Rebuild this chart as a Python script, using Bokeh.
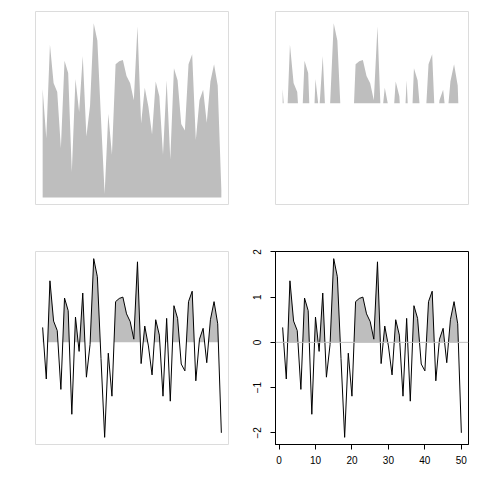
import numpy as np
from bokeh.plotting import figure
from bokeh.models import Range1d, Span, FixedTicker
from bokeh.layouts import gridplot
from bokeh.embed import file_html
from bokeh.resources import INLINE

# ---- data ----
xs = list(range(1, 51))
vals = [0.33, -0.81, 1.36, 0.47, 0.26, -1.04, 0.98, 0.70, -1.59, 0.56,
        -0.20, 1.09, -0.77, -0.05, 1.85, 1.45, -0.36, -2.10, -0.24, -1.19,
        0.90, 0.97, 1.00, 0.63, 0.46, 0.07, 1.78, -0.47, 0.36, -0.08,
        -0.72, 0.50, 0.16, -1.19, 0.53, -1.30, 0.81, 0.53, -0.48, -0.63,
        0.90, 1.13, -0.85, 0.07, 0.31, -0.45, 0.50, 0.90, 0.41, -2.00]
x_ticks = [0, 10, 20, 30, 40, 50]
y_ticks = [-2, -1, 0, 1, 2]

FILL = "#bebebe"
LIGHT_BOX = "#dcdcdc"
FONT = "Liberation Sans"

# positive-part geometry (insert zero crossings between sign changes)
px, py = [], []
for i in range(len(xs)):
    v = vals[i]
    px.append(xs[i]); py.append(max(v, 0.0))
    if i < len(xs) - 1:
        w = vals[i + 1]
        if (v > 0 > w) or (v < 0 < w):
            xc = xs[i] + v / (v - w)
            px.append(xc); py.append(0.0)

XR = (-0.96, 51.96)
YR_TOP = (-2.34, 2.12)
YR_BOT = (-2.258, 2.008)


def make_fig(w, h, left, right, top, bottom, yr, axes=False):
    kw = dict(width=w, height=h, output_backend="svg", toolbar_location=None,
              x_range=Range1d(*XR), y_range=Range1d(*yr),
              min_border_left=left, min_border_right=right,
              min_border_top=top, min_border_bottom=bottom)
    if not axes:
        kw.update(x_axis_location=None, y_axis_location=None)
    p = figure(**kw)
    p.grid.visible = False
    p.background_fill_color = "white"
    p.border_fill_color = "white"
    p.outline_line_color = LIGHT_BOX
    p.outline_line_width = 1
    return p


# top-left: filled from below
p1 = make_fig(240, 240, 35, 12, 11, 36, YR_TOP)
p1.varea(x=xs, y1=[-2.18] * len(xs), y2=vals, fill_color=FILL)

# top-right: positive parts only
p2 = make_fig(232, 240, 35, 4, 11, 36, YR_TOP)
p2.varea(x=px, y1=[0.0] * len(px), y2=py, fill_color=FILL)

# bottom-left: line with positive parts filled
p3 = make_fig(240, 232, 35, 12, 11, 28, YR_BOT)
p3.varea(x=px, y1=[0.0] * len(px), y2=py, fill_color=FILL)
p3.line(x=xs, y=vals, line_color="black", line_width=1)

# bottom-right: same with axes and zero line
p4 = make_fig(232, 232, 35, 4, 10, 28, YR_BOT, axes=True)
p4.outline_line_color = "black"
p4.varea(x=px, y1=[0.0] * len(px), y2=py, fill_color=FILL)
p4.add_layout(Span(location=0, dimension="width", line_color=FILL, line_width=1))
p4.line(x=xs, y=vals, line_color="black", line_width=1)

for ax in (p4.xaxis[0], p4.yaxis[0]):
    ax.axis_line_color = "black"
    ax.major_tick_line_color = "black"
    ax.major_tick_out = 5
    ax.major_tick_in = 0
    ax.minor_tick_line_color = None
    ax.major_label_text_font = FONT
    ax.major_label_text_font_size = "10px"
    ax.major_label_text_color = "black"
    ax.major_label_standoff = 6
p4.yaxis[0].major_label_standoff = 9
p4.xaxis[0].ticker = FixedTicker(ticks=x_ticks)
p4.yaxis[0].ticker = FixedTicker(ticks=y_ticks)
p4.yaxis[0].major_label_orientation = "vertical"

grid = gridplot([[p1, p2], [p3, p4]], toolbar_location=None)

open("out.html", "w").write(file_html(grid, INLINE))
